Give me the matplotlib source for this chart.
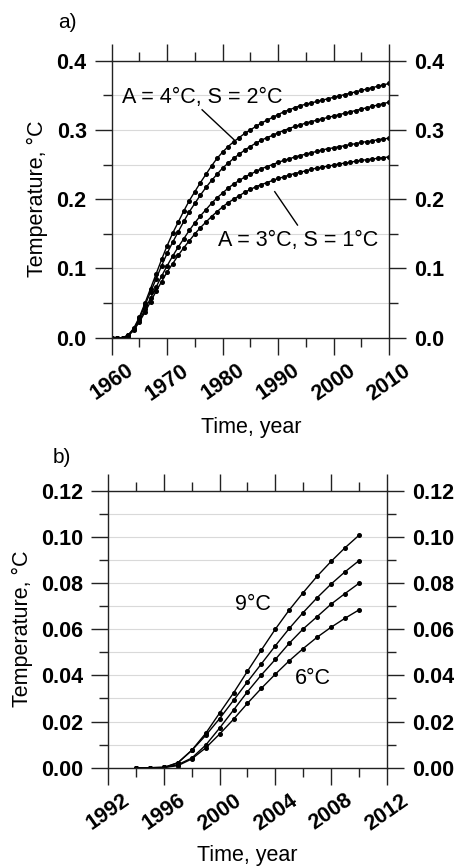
import matplotlib
matplotlib.use("Agg")
import matplotlib.pyplot as plt
from matplotlib.ticker import MultipleLocator

plt.rcParams["font.family"] = ["Liberation Sans", "DejaVu Sans"]

# panel a: yearly values 1960-2010
years_a = list(range(1960, 2011))
a_top = [0.000, 0.000, 0.000, 0.004, 0.014, 0.030, 0.050, 0.071, 0.092, 0.113,
         0.133, 0.151, 0.167, 0.183, 0.198, 0.211, 0.224, 0.236, 0.248, 0.259,
         0.268, 0.276, 0.283, 0.289, 0.295, 0.300, 0.305, 0.310, 0.314, 0.318,
         0.322, 0.326, 0.329, 0.332, 0.335, 0.337, 0.339, 0.341, 0.343, 0.345,
         0.347, 0.349, 0.351, 0.353, 0.355, 0.357, 0.359, 0.361, 0.363, 0.365,
         0.367]
a_second = [0.000, 0.000, 0.000, 0.004, 0.013, 0.028, 0.047, 0.066, 0.085, 0.104,
            0.122, 0.138, 0.153, 0.168, 0.182, 0.194, 0.206, 0.217, 0.227, 0.236,
            0.245, 0.252, 0.259, 0.265, 0.271, 0.276, 0.281, 0.285, 0.289, 0.292,
            0.296, 0.299, 0.302, 0.305, 0.307, 0.310, 0.312, 0.314, 0.316, 0.318,
            0.320, 0.322, 0.324, 0.326, 0.328, 0.330, 0.332, 0.334, 0.336, 0.338,
            0.340]
a_third = [0.000, 0.000, 0.000, 0.003, 0.012, 0.025, 0.041, 0.057, 0.073, 0.089,
           0.104, 0.118, 0.131, 0.143, 0.155, 0.166, 0.176, 0.185, 0.194, 0.202,
           0.209, 0.216, 0.222, 0.227, 0.232, 0.236, 0.240, 0.244, 0.247, 0.250,
           0.253, 0.256, 0.258, 0.261, 0.263, 0.265, 0.267, 0.269, 0.271, 0.273,
           0.274, 0.276, 0.277, 0.279, 0.280, 0.282, 0.283, 0.284, 0.286, 0.287,
           0.288]
a_bottom = [0.000, 0.000, 0.000, 0.003, 0.011, 0.023, 0.037, 0.052, 0.067, 0.081,
            0.095, 0.107, 0.119, 0.130, 0.140, 0.150, 0.159, 0.167, 0.175, 0.182,
            0.189, 0.195, 0.200, 0.205, 0.210, 0.214, 0.218, 0.221, 0.224, 0.227,
            0.230, 0.232, 0.235, 0.237, 0.239, 0.241, 0.243, 0.245, 0.246, 0.248,
            0.249, 0.251, 0.252, 0.253, 0.255, 0.256, 0.257, 0.258, 0.259, 0.260,
            0.261]

# panel b: yearly values 1994-2010
years_b = list(range(1994, 2011))
b_9 = [0, 0, 0.0001, 0.0022, 0.0076, 0.0149, 0.0237, 0.0324, 0.0418, 0.0510,
       0.0600, 0.0683, 0.0758, 0.0829, 0.0893, 0.0952, 0.1006]
b_8 = [0, 0, 0.0001, 0.0021, 0.0075, 0.0140, 0.0213, 0.0292, 0.0372, 0.0450,
       0.0528, 0.0603, 0.0672, 0.0736, 0.0795, 0.0848, 0.0896]
b_7 = [0, 0, 0.0001, 0.0013, 0.0042, 0.0098, 0.0172, 0.0250, 0.0329, 0.0402,
       0.0469, 0.0539, 0.0601, 0.0654, 0.0708, 0.0754, 0.0798]
b_6 = [0, 0, 0.0001, 0.0009, 0.0038, 0.0086, 0.0146, 0.0210, 0.0279, 0.0344,
       0.0405, 0.0463, 0.0516, 0.0565, 0.0608, 0.0647, 0.0683]

FS = 15.5      # plain text
FS_TICK = 15.5  # bold tick labels


def style_axes(ax, xmin, xmax, xmaj, xmin_step, ymax, ymaj, ymin_step, yfmt):
    ax.set_xlim(xmin, xmax)
    ax.set_ylim(0, ymax)
    ax.xaxis.set_major_locator(MultipleLocator(xmaj))
    ax.xaxis.set_minor_locator(MultipleLocator(xmin_step))
    ax.yaxis.set_major_locator(MultipleLocator(ymaj))
    ax.yaxis.set_minor_locator(MultipleLocator(ymin_step))
    ax.yaxis.set_major_formatter(yfmt)
    ax.tick_params(which="both", direction="out", top=True, right=True,
                   labelright=True, width=1.0, color="#222222")
    ax.tick_params(which="major", length=12)
    ax.tick_params(which="minor", length=6.5)
    ax.tick_params(axis="y", which="major", pad=6)
    ax.tick_params(axis="x", which="major", pad=4)
    for s in ax.spines.values():
        s.set_linewidth(1.0)
        s.set_color("#222222")
    ax.grid(True, axis="y", which="both", color="#d9d9d9", lw=0.8)
    ax.set_axisbelow(True)
    for lab in ax.get_xticklabels() + ax.get_yticklabels():
        lab.set_fontweight("bold")
        lab.set_fontsize(FS_TICK)
    for lab in ax.get_xticklabels():
        lab.set_rotation(35)


fig = plt.figure(figsize=(4.56, 8.66), dpi=100)

ax1 = fig.add_axes([0.245, 0.610, 0.608, 0.320])
for vals in [a_top, a_second, a_third, a_bottom]:
    ax1.plot(years_a, vals, color="black", lw=1.0, marker="o", ms=2.6)
style_axes(ax1, 1960, 2010, 10, 5, 0.4, 0.1, 0.05, "{x:.1f}")
ax1.text(1976.4, 0.347, "A = 4°C, S = 2°C", fontsize=FS, ha="center", va="center")
ax1.plot([1976.3, 1982.1], [0.329, 0.2855], color="black", lw=1.0)
ax1.text(1993.6, 0.140, "A = 3°C, S = 1°C", fontsize=FS, ha="center", va="center")
ax1.plot([1989.4, 1993.5], [0.2108, 0.1627], color="black", lw=1.0)

ax2 = fig.add_axes([0.2375, 0.1135, 0.6105, 0.320])
for vals in [b_9, b_8, b_7, b_6]:
    ax2.plot(years_b, vals, color="black", lw=1.0, marker="o", ms=2.6)
style_axes(ax2, 1992, 2012, 4, 2, 0.12, 0.02, 0.01, "{x:.2f}")
ax2.text(2002.4, 0.0705, "9°C", fontsize=FS, ha="center", va="center")
ax2.text(2006.7, 0.0387, "6°C", fontsize=FS, ha="center", va="center")

# panel letters and axis titles
fig.text(67 / 456, 1 - 23 / 866, "a)", fontsize=15, ha="center", va="center")
fig.text(62 / 456, 1 - 457 / 866, "b)", fontsize=15, ha="center", va="center")
fig.text(37 / 456, 1 - 199 / 866, "Temperature, °C", fontsize=FS, rotation=90,
         ha="center", va="center")
fig.text(22 / 456, 1 - 629 / 866, "Temperature, °C", fontsize=FS, rotation=90,
         ha="center", va="center")
fig.text(251 / 456, 1 - 427 / 866, "Time, year", fontsize=FS, ha="center", va="center")
fig.text(247.5 / 456, 1 - 855 / 866, "Time, year", fontsize=FS, ha="center", va="center")

fig.savefig("out.png", dpi=100)
plt.close(fig)
